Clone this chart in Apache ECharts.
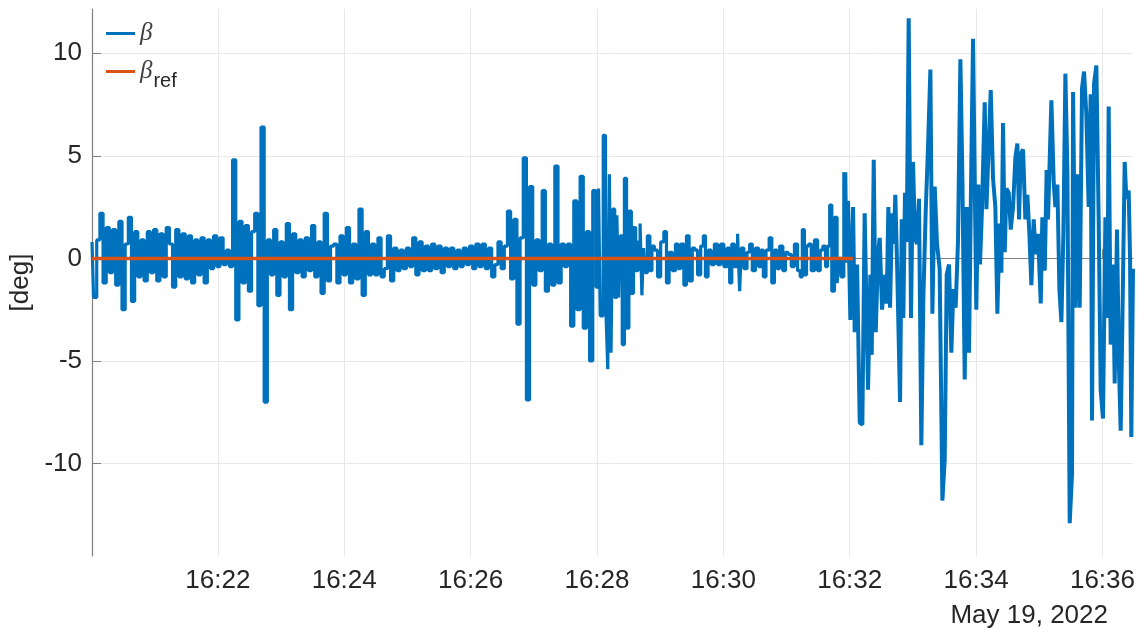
<!DOCTYPE html>
<html>
<head>
<meta charset="utf-8">
<script src="https://cdn.jsdelivr.net/npm/echarts@6/dist/echarts.min.js"></script>
<style>
html, body { margin: 0; padding: 0; background: #fff; }
#main { width: 1146px; height: 634px; }
</style>
</head>
<body>
<div id="main"></div>
<script>
// time is in seconds after 16:20:00 (May 19, 2022)
// first part: regular 3 s samples
var aStart = 0.5;
var aStep = 3;
var aValues = [
  0.8, -1.9, 0.9, 2.2, -1.2, 1.5, -0.7, 1.4, -1.3, 1.8,
  -2.5, 0.7, 2.0, -2.1, 1.3, -0.9, 0.9, -1.1, 1.3, -0.7,
  1.4, -1.1, 1.2, -0.9, 1.5, 0.7, -1.4, 1.4, -0.9, 1.2,
  -1.0, 1.1, -1.2, 0.9, -0.8, 1.0, -1.2, 0.9, -0.5, 1.1,
  -0.4, 1.0, -0.3, 0.4, -0.4, 4.8, -3.0, 1.8, -1.2, 1.6,
  -1.6, 1.3, 2.2, -2.3, 6.4, -7.0, 0.9, -0.8, 1.4, -1.8,
  0.8, -0.9, 1.7, -2.5, 1.2, -0.7, 0.9, -0.9, 1.0, -0.6,
  1.6, -0.9, 0.8, -1.7, 2.2, -1.1, 0.6, 0.7, -1.2, 1.1,
  -0.8, 1.5, -1.2, 0.7, -1.0, 2.4, -1.8, 1.3, -0.8, 0.7,
  -0.8, 1.0, -0.9, -0.5, 1.1, -1.1, 0.5, -0.6, 0.4, -0.5,
  0.5, -0.4, 1.0, -0.8, 0.8, -0.6, 0.6, -0.6, 0.7, -0.5,
  0.6, -0.7, 0.5, -0.4, 0.5, -0.5, 0.4, -0.4, 0.5, -0.3,
  0.6, -0.5, 0.7, -0.4, 0.7, -0.5, 0.5, -0.9, -0.3, 0.8,
  -0.5, 0.6, 2.3, -1.0, 1.9, -3.2, 1.0, 4.9, -6.9, 3.5,
  -1.3, 0.9, -0.6, 3.3, -1.6, 0.7, -1.3, 4.5, -1.2, 0.7,
  -0.4, 0.7, -3.3, 2.8, -2.5, 4.0, -3.4, 1.3, -5.0, 3.3
];
// second part: samples read one by one
var bTimes = [
  480.7, 482.3, 483.9, 488, 489.3, 491.2, 492.4, 494.3, 495.6, 498.1,
  499.7, 501.3, 502.9, 505.1, 507, 509.2, 511.4, 513.9, 515.5, 518,
  520, 521.9, 523.4, 525, 526.6, 529.1, 531.4, 533, 536, 539,
  542, 545, 547, 550, 553, 556, 558, 561, 564, 566,
  569, 572, 574, 577, 580, 582, 584, 587, 590, 593,
  596, 599, 602, 605, 607, 609, 612, 615, 616, 618,
  621, 624, 626, 629, 632, 635, 637, 639, 642, 645,
  647, 650, 652, 655, 658, 660, 663, 666, 669, 672,
  674, 676, 678, 680, 682, 685, 688, 691, 693, 696,
  698, 700, 702, 704, 707, 709, 710.5, 713, 715.8, 716.8,
  718.4, 720.6, 723.2, 724.7, 727, 729.5, 732, 734.2, 737.4, 739.6,
  740.9, 742.8, 744.7, 746.9, 748.5, 750.7, 753.2, 755.1, 756.7, 758.3,
  760.2, 761.8, 763.3, 765.2, 767.8, 769.4, 770.9, 772.5, 774.1, 776,
  778.2, 780.1, 782, 783.9, 785.8, 788, 789.9, 792.1, 794.4, 796.6,
  798.5, 800.7, 802.9, 805.4, 808, 810.2, 812.1, 814.3, 816.5, 818.4,
  820.6, 822.8, 825.1, 827, 829.2, 831.1, 833.3, 835.2, 837.1, 840.2,
  842.1, 843.7, 845.6, 848.2, 849.8, 853.9, 856.1, 858.3, 860.2, 862.4,
  864, 865.6, 867.2, 868.8, 871, 872.9, 875.1, 877.3, 879.2, 880.8,
  882.4, 884.6, 886.8, 888.7, 890.6, 892.5, 894.7, 896.6, 898.8, 901.4,
  902.9, 905.2, 907, 908.3, 911.5, 913.7, 915.3, 917.2, 919.1, 921,
  922.9, 924.8, 926.7, 928.9, 931.1, 932.1, 934.3, 936.2, 938.4, 940.6,
  942.5, 944.7, 946.9, 948.8, 950.1, 952, 954.2, 956.4, 958.3, 960.5,
  962.8, 964.7, 965.9, 967.8, 970, 971.6, 973.8, 975.7, 977.3, 978.9,
  981.1, 982.7, 984.9, 986.2, 987.4, 989
];
var bValues = [
  -1.4, 3.4, -2.8, 6.0, -2.8, -5.4, 4.1, -4.6, 2.4, -1.9,
  2.1, -1.9, 1.1, -4.2, 3.9, -3.4, 2.3, -1.7, 1.5, -0.6,
  0.8, 1.7, -1.8, 0.5, -0.7, 1.1, -0.6, 0.6, 0.4, -0.9,
  0.8, 1.3, -1.2, 0.3, -0.6, 0.7, -0.5, 0.7, -1.3, 1.1,
  -1.1, 0.5, 0.4, -0.8, 0.6, 1.1, -0.9, 0.4, -0.3, 0.7,
  -0.3, 0.7, -0.4, 0.5, -1.2, 0.7, -0.4, 1.2, -1.6, 0.5,
  -0.5, 0.3, 0.7, -0.6, 0.5, -0.4, 0.4, -0.9, 0.4, 1.0,
  -1.2, 0.4, -0.5, 0.6, -0.6, 0.3, 0.2, -0.4, 0.7, -0.6,
  -0.9, 1.4, -0.8, 0.6, 0.7, -0.6, 0.9, -0.6, 0.4, 0.6,
  -0.4, 0.6, 2.6, -1.6, 2.0, -1.2, 0.0, -0.9, 4.2, -0.2,
  2.8, -3.0, 2.5, -3.6, -0.3, -8.0, -8.1, 2.2, -6.4, -0.8,
  -4.7, 4.8, -3.6, 0.2, 1.0, -2.5, -0.8, -2.2, 2.5, -2.4,
  2.2, 0.7, 3.1, -0.8, -7.0, 1.9, -2.9, 3.2, 0.8, 11.7,
  -2.9, 4.7, 1.0, 0.7, 2.9, -9.1, -2.0, 2.2, 5.5, 9.2,
  -2.7, 3.5, 0.7, -0.5, -11.8, -9.8, -0.8, -0.3, -4.6, -1.5,
  -2.4, 0.8, 9.7, 3.9, -5.9, 2.5, -4.6, 3.6, 10.7, -2.5,
  3.6, -0.3, 2.4, 7.6, 2.4, 8.2, 3.9, 2.5, -2.7, 1.7,
  -0.7, 6.6, 0.3, 3.4, 3.2, 1.4, 2.5, 4.9, 5.6, 1.9,
  5.1, 5.3, 1.9, 3.1, 1.2, -1.3, 1.9, 0.2, 1.2, -2.2,
  2.0, -0.6, 4.3, 1.9, 7.7, 3.7, 2.5, 3.6, -1.5, -3.1,
  1.2, 9.0, 4.2, -12.9, -10.5, 8.1, -2.4, 4.1, -2.4, 8.3,
  9.1, 7.0, 2.5, 8.0, -7.9, 8.5, 9.4, 1.9, -6.4, -7.8,
  2.0, -2.9, 7.4, -4.2, -0.3, -6.1, 1.4, -5.3, -8.4, -3.2,
  4.7, 2.9, 3.3, 0.0, -8.7, -0.5
];
var refTimes = [0.5, 723];
var refValues = [0, 0];
var xTicks = [120, 240, 360, 480, 600, 720, 840, 960];
var yTicks = [-10, -5, 0, 5, 10];
// the dense, low-amplitude stretch ends here (s)
var calmEnd = 716.8;

var betaData = aValues.map(function (v, i) {
  return [aStart + i * aStep, v];
}).concat(bTimes.map(function (t, i) {
  return [t, bValues[i]];
}));
var betaCalm = betaData.filter(function (d) { return d[0] <= calmEnd; });
var betaWild = betaData.filter(function (d) { return d[0] >= 715.8; });
var refData = refTimes.map(function (t, i) {
  return [t, refValues[i]];
});

function hhmm(s) {
  var m = 20 + Math.round(s / 60);
  return '16:' + (m < 10 ? '0' + m : m);
}

var font = 'Liberation Sans, Arial, sans-serif';
var textColor = '#262626';
var axisColor = '#808080';
var blue = '#0072BD';
var orange = '#D95319';
var legendRich = {
  b: { fontFamily: 'Liberation Serif, serif', fontStyle: 'italic', fontSize: 25, color: '#404040' },
  s: { fontFamily: font, fontSize: 20, color: textColor, padding: [20, 0, 0, 1] }
};

var chart = echarts.init(document.getElementById('main'));
chart.setOption({
  animation: false,
  backgroundColor: '#fff',
  title: {
    text: 'May 19, 2022',
    right: 38,
    top: 603,
    padding: 0,
    textStyle: { fontFamily: font, fontSize: 26, fontWeight: 'normal', color: textColor }
  },
  legend: [{
    data: ['beta'],
    left: 106,
    top: 21,
    icon: 'rect',
    itemWidth: 29,
    itemHeight: 3,
    padding: 0,
    formatter: function () { return '{b|β}'; },
    textStyle: { rich: legendRich }
  }, {
    data: ['betaRef'],
    left: 106,
    top: 59,
    icon: 'rect',
    itemWidth: 29,
    itemHeight: 3,
    padding: 0,
    formatter: function () { return '{b|β}{s|ref}'; },
    textStyle: { rich: legendRich }
  }],
  grid: { left: 92, right: 13, top: 9, bottom: 78, outerBoundsMode: 'none' },
  xAxis: {
    type: 'value',
    min: 0.5,
    max: 989,
    axisLine: { lineStyle: { color: axisColor, width: 1.2 } },
    axisTick: { inside: true, length: 9, customValues: xTicks, lineStyle: { color: axisColor } },
    axisLabel: {
      customValues: xTicks,
      formatter: hhmm,
      margin: 12,
      fontFamily: font,
      fontSize: 26,
      color: textColor
    },
    splitLine: { show: true, lineStyle: { color: '#e8e8e8', width: 1 } }
  },
  yAxis: {
    type: 'value',
    min: -14.5,
    max: 12.15,
    name: '[deg]',
    nameLocation: 'middle',
    nameRotate: 90,
    nameGap: 57,
    nameTextStyle: { fontFamily: font, fontSize: 26, color: textColor },
    axisLine: { show: true, lineStyle: { color: axisColor, width: 1.2 } },
    axisTick: { show: true, inside: true, length: 9, customValues: yTicks, lineStyle: { color: axisColor } },
    axisLabel: {
      customValues: yTicks,
      margin: 10,
      fontFamily: font,
      fontSize: 26,
      color: textColor
    },
    splitLine: { show: true, lineStyle: { color: '#e8e8e8', width: 1 } }
  },
  series: [{
    name: 'beta',
    type: 'line',
    data: betaCalm,
    symbol: 'none',
    step: 'middle',
    color: blue,
    lineStyle: { width: 3.2, color: blue }
  }, {
    name: 'beta',
    type: 'line',
    data: betaWild,
    symbol: 'none',
    color: blue,
    lineStyle: { width: 4, color: blue }
  }, {
    name: 'betaRef',
    type: 'line',
    data: refData,
    symbol: 'none',
    color: orange,
    lineStyle: { width: 3.5, color: orange }
  }]
});
</script>
</body>
</html>
